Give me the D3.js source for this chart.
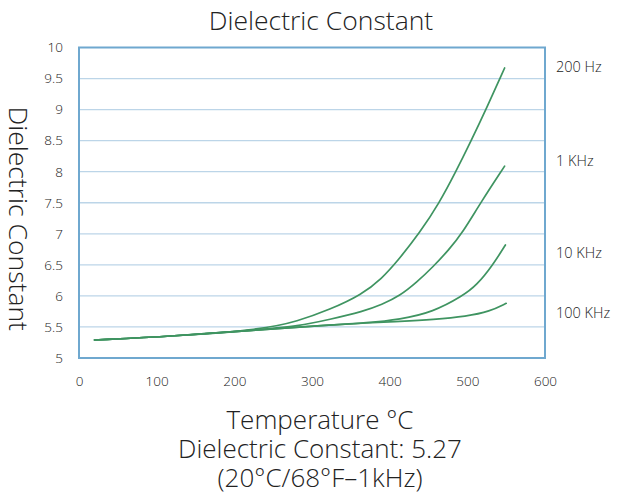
<!DOCTYPE html>
<html>
<head>
<meta charset="utf-8">
<script src="https://cdn.jsdelivr.net/npm/d3@7"></script>
<style>
  body { margin: 0; background: #fff; }
  text { font-family: "Open Sans", "Noto Sans", sans-serif; font-weight: 300; fill: #222; }
</style>
</head>
<body>
<svg id="chart" width="630" height="495"></svg>
<script>
// series values, [temperature C, dielectric constant]
var series200Hz = [[20,5.29],[120,5.35],[237,5.46],[281,5.59],[323,5.78],[364,6.02],[390,6.28],[410,6.56],[439,7.02],[464,7.5],[484,7.97],[505,8.5],[525,9.03],[548,9.67]];
var series1kHz = [[20,5.29],[120,5.35],[237,5.46],[281,5.51],[323,5.62],[366,5.75],[390,5.86],[413,6.0],[435,6.22],[456,6.47],[476,6.74],[494,7.02],[517,7.5],[548,8.09]];
var series10kHz = [[20,5.29],[120,5.35],[237,5.46],[323,5.53],[371,5.565],[413,5.62],[456,5.74],[494,6.0],[512,6.17],[533,6.5],[549,6.82]];
var series100kHz = [[20,5.29],[120,5.35],[237,5.46],[323,5.53],[371,5.565],[413,5.59],[456,5.62],[499,5.67],[529,5.75],[550,5.88]];

var seriesNames = ["200 Hz", "1 KHz", "10 KHz", "100 KHz"];
var labelValues = [9.68, 8.18, 6.7, 5.72];
var xTicks = [0, 100, 200, 300, 400, 500, 600];
var yTicks = [5, 5.5, 6, 6.5, 7, 7.5, 8, 8.5, 9, 9.5, 10];
var footLines = ["Temperature \u00B0C", "Dielectric Constant: 5.27", "(20\u00B0C/68\u00B0F\u20131kHz)"];

var margin = {top: 47.5, right: 85, bottom: 137, left: 79};
var width = 630, height = 495;

var svg = d3.select("#chart");

var x = d3.scaleLinear().domain([0, 600]).range([margin.left, width - margin.right]);
var y = d3.scaleLinear().domain([5, 10]).range([height - margin.bottom, margin.top]);

// grid
svg.append("g")
  .selectAll("line")
  .data(yTicks.slice(1, -1))
  .enter().append("line")
  .attr("x1", x(0)).attr("x2", x(600))
  .attr("y1", function(d) { return y(d); })
  .attr("y2", function(d) { return y(d); })
  .attr("stroke", "#bcd5e8")
  .attr("stroke-width", 1.3);

// frame
svg.append("rect")
  .attr("x", x(0)).attr("y", y(10))
  .attr("width", x(600) - x(0))
  .attr("height", y(5) - y(10))
  .attr("fill", "none")
  .attr("stroke", "#6fa8cf")
  .attr("stroke-width", 2);

// y axis
var yAxis = svg.append("g")
  .attr("transform", "translate(" + (x(0) - 16) + ",0)")
  .call(d3.axisLeft(y).tickValues(yTicks).tickSize(0).tickPadding(0).tickFormat(d3.format("")));
yAxis.select(".domain").remove();
yAxis.selectAll("text").style("font-size", "13.5px").attr("fill", "#222");

// x axis
var xAxis = svg.append("g")
  .attr("transform", "translate(0," + (y(5) + 18) + ")")
  .call(d3.axisBottom(x).tickValues(xTicks).tickSize(0).tickPadding(0));
xAxis.select(".domain").remove();
xAxis.selectAll("text").style("font-size", "13.5px").attr("fill", "#222");

// curves - basis keeps them smooth like the original
var line = d3.line()
  .x(function(d) { return x(d[0]); })
  .y(function(d) { return y(d[1]); })
  .curve(d3.curveBasis);

var allSeries = [series200Hz, series1kHz, series10kHz, series100kHz];

svg.append("g")
  .selectAll("path")
  .data(allSeries)
  .enter().append("path")
  .attr("d", line)
  .attr("fill", "none")
  .attr("stroke", "#3f9461")
  .attr("stroke-width", 1.7)
  .attr("stroke-linecap", "round");

// series labels on the right
svg.append("g")
  .selectAll("text")
  .data(seriesNames)
  .enter().append("text")
  .attr("x", x(600) + 11)
  .attr("y", function(d, i) { return y(labelValues[i]); })
  .attr("dy", "0.35em")
  .style("font-size", "14.5px")
  .text(function(d) { return d; });

// title
svg.append("text")
  .attr("x", 321)
  .attr("y", 30)
  .attr("text-anchor", "middle")
  .style("font-size", "26.5px")
  .text("Dielectric Constant");

// y title
svg.append("text")
  .attr("transform", "translate(9," + (y(7.5) + 16) + ") rotate(90)")
  .attr("text-anchor", "middle")
  .style("font-size", "26.5px")
  .text("Dielectric Constant");

// footer
svg.append("g")
  .selectAll("text")
  .data(footLines)
  .enter().append("text")
  .attr("x", 320)
  .attr("y", function(d, i) { return 429 + i * 29; })
  .attr("text-anchor", "middle")
  .style("font-size", "26px")
  .text(function(d) { return d; });
</script>
</body>
</html>
